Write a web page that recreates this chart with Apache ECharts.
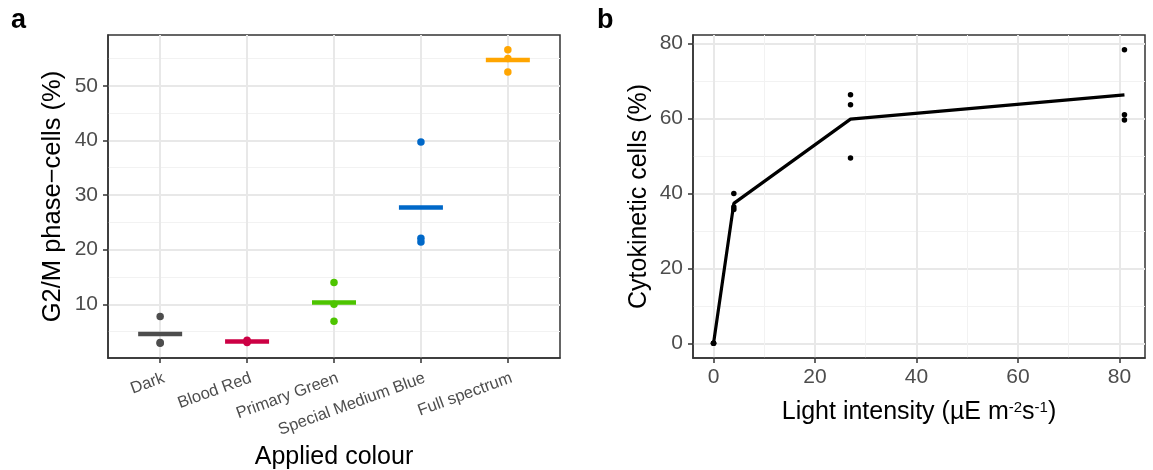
<!DOCTYPE html>
<html>
<head>
<meta charset="utf-8">
<script src="https://cdn.jsdelivr.net/npm/echarts@6/dist/echarts.min.js"></script>
<style>html,body{margin:0;padding:0;background:#fff;}#c{width:1153px;height:470px;}</style>
</head>
<body>
<div id="c"></div>
<script>
// ---- Panel a data ----
const colourCats = ['Dark', 'Blood Red', 'Primary Green', 'Special Medium Blue', 'Full spectrum'];
const colourHex = ['#4d4d4d', '#cc0044', '#4dc400', '#0068c8', '#ffa500'];
const darkVals = [7.75, 2.85, 3.0];
const bloodRedVals = [3.0, 3.2, 3.4];
const primaryGreenVals = [14.0, 10.0, 6.9];
const specialBlueVals = [39.7, 22.1, 21.4];
const fullSpectrumVals = [56.6, 55.0, 52.5];
const g2mTicks = [10, 20, 30, 40, 50];
const g2mMinor = [5, 15, 25, 35, 45, 55];

// ---- Panel b data ----
const lightLevels = [0, 4, 27, 81];
const cytoRep1 = [0, 40.0, 66.4, 78.4];
const cytoRep2 = [0, 36.4, 63.7, 61.0];
const cytoRep3 = [0, 35.7, 49.5, 59.6];
const lightTicks = [0, 20, 40, 60, 80];
const lightMinor = [10, 30, 50, 70];
const cytoTicks = [0, 20, 40, 60, 80];
const cytoMinor = [10, 30, 50, 70];

const FONT = 'Liberation Sans';
const groups = [darkVals, bloodRedVals, primaryGreenVals, specialBlueVals, fullSpectrumVals];
const mean = a => a.reduce((s, v) => s + v, 0) / a.length;

function rangeOf(vals) {
  const lo = Math.min(...vals), hi = Math.max(...vals), d = hi - lo;
  return [lo - 0.05 * d, hi + 0.05 * d];
}
const aRange = rangeOf([].concat(...groups));
const bYRange = rangeOf([].concat(cytoRep1, cytoRep2, cytoRep3));
const bXRange = rangeOf(lightLevels);

const tickColor = '#333333';
const labelColor = '#4d4d4d';
const majorGrid = { show: true, lineStyle: { color: '#e8e8e8', width: 2 } };
const minorGrid = { show: true, lineStyle: { color: '#f2f2f2', width: 1 } };
const axLine = { show: true, onZero: false, lineStyle: { color: tickColor, width: 1.5 } };

function minorAxis(gridIndex, range, vals) {
  return {
    type: 'value', gridIndex, min: range[0], max: range[1],
    axisLine: { show: false, onZero: false }, axisLabel: { show: false },
    axisTick: { show: false, customValues: vals },
    splitLine: minorGrid, z: 0
  };
}

const series = [];
// mean bars panel a
groups.forEach((g, i) => {
  series.push({
    type: 'scatter', xAxisIndex: 0, yAxisIndex: 0,
    symbol: 'rect', symbolSize: [44, 4.5],
    itemStyle: { color: colourHex[i], opacity: 1 },
    data: [[i + 1, mean(g)]], z: 3, silent: true
  });
});
// points panel a
groups.forEach((g, i) => {
  series.push({
    type: 'scatter', xAxisIndex: 0, yAxisIndex: 0,
    symbol: 'circle', symbolSize: 7.5,
    itemStyle: { color: colourHex[i], opacity: 1 },
    data: g.map(v => [i + 1, v]), z: 4, silent: true
  });
});
// panel b mean line
const cytoMeans = lightLevels.map((x, i) => [x, mean([cytoRep1[i], cytoRep2[i], cytoRep3[i]])]);
series.push({
  type: 'line', xAxisIndex: 1, yAxisIndex: 2,
  data: cytoMeans, showSymbol: false, symbol: 'none',
  lineStyle: { color: '#000', width: 3.2 }, z: 3, silent: true
});
[cytoRep1, cytoRep2, cytoRep3].forEach(rep => {
  series.push({
    type: 'scatter', xAxisIndex: 1, yAxisIndex: 2,
    symbol: 'circle', symbolSize: 5.5,
    itemStyle: { color: '#000', opacity: 1 },
    data: lightLevels.map((x, i) => [x, rep[i]]), z: 4, silent: true
  });
});

const gridBase = { top: 35, width: 452, height: 323, show: true, borderColor: '#333', borderWidth: 1.5, backgroundColor: 'transparent', containLabel: false, outerBoundsMode: 'none' };

const option = {
  animation: false,
  backgroundColor: '#fff',
  textStyle: { fontFamily: FONT },
  grid: [
    Object.assign({ left: 108 }, gridBase),
    Object.assign({ left: 693 }, gridBase)
  ],
  xAxis: [
    {
      type: 'value', gridIndex: 0, min: 0.4, max: 5.6,
      axisLine: axLine,
      axisTick: { show: true, length: 5, lineStyle: { color: tickColor, width: 1.5 }, customValues: [1, 2, 3, 4, 5] },
      axisLabel: {
        customValues: [1, 2, 3, 4, 5], rotate: 20, margin: 21, padding: [0, -4, 0, 0],
        formatter: v => colourCats[Math.round(v) - 1] || '',
        fontSize: 16.5, color: labelColor, fontFamily: FONT
      },
      splitLine: majorGrid,
      name: 'Applied colour', nameLocation: 'middle', nameGap: 85,
      nameTextStyle: { fontSize: 25, color: '#000', fontFamily: FONT }
    },
    {
      type: 'value', gridIndex: 1, min: bXRange[0], max: bXRange[1],
      axisLine: axLine,
      axisTick: { show: true, length: 5, lineStyle: { color: tickColor, width: 1.5 }, customValues: lightTicks },
      axisLabel: { customValues: lightTicks, margin: 9, fontSize: 21, color: labelColor, fontFamily: FONT },
      splitLine: majorGrid,
      name: 'Light intensity (µE m{sup|-2}s{sup|-1})', nameLocation: 'middle', nameGap: 42,
      nameTextStyle: {
        fontSize: 25, color: '#000', fontFamily: FONT,
        rich: { sup: { fontSize: 15, color: '#000', fontFamily: FONT, verticalAlign: 'top', lineHeight: 16 } }
      }
    },
    minorAxis(1, bXRange, lightMinor)
  ],
  yAxis: [
    {
      type: 'value', gridIndex: 0, min: aRange[0], max: aRange[1],
      axisLine: axLine,
      axisTick: { show: true, length: 5, lineStyle: { color: tickColor, width: 1.5 }, customValues: g2mTicks },
      axisLabel: { customValues: g2mTicks, margin: 10, fontSize: 21, color: labelColor, fontFamily: FONT },
      splitLine: majorGrid,
      name: 'G2/M phase\u2212cells (%)', nameLocation: 'middle', nameGap: 42,
      nameTextStyle: { fontSize: 25.5, color: '#000', fontFamily: FONT }
    },
    minorAxis(0, aRange, g2mMinor),
    {
      type: 'value', gridIndex: 1, min: bYRange[0], max: bYRange[1],
      axisLine: axLine,
      axisTick: { show: true, length: 5, lineStyle: { color: tickColor, width: 1.5 }, customValues: cytoTicks },
      axisLabel: { customValues: cytoTicks, margin: 10, fontSize: 21, color: labelColor, fontFamily: FONT },
      splitLine: majorGrid,
      name: 'Cytokinetic cells (%)', nameLocation: 'middle', nameGap: 41,
      nameTextStyle: { fontSize: 25, color: '#000', fontFamily: FONT }
    },
    minorAxis(1, bYRange, cytoMinor)
  ],
  graphic: [
    { type: 'text', left: 11, top: 7, style: { text: 'a', font: 'bold 27px "Liberation Sans"', fill: '#000' } },
    { type: 'text', left: 597, top: 7, style: { text: 'b', font: 'bold 27px "Liberation Sans"', fill: '#000' } }
  ],
  series
};
const chart = echarts.init(document.getElementById('c'), null, { renderer: 'canvas' });
chart.setOption(option);
</script>
</body>
</html>
